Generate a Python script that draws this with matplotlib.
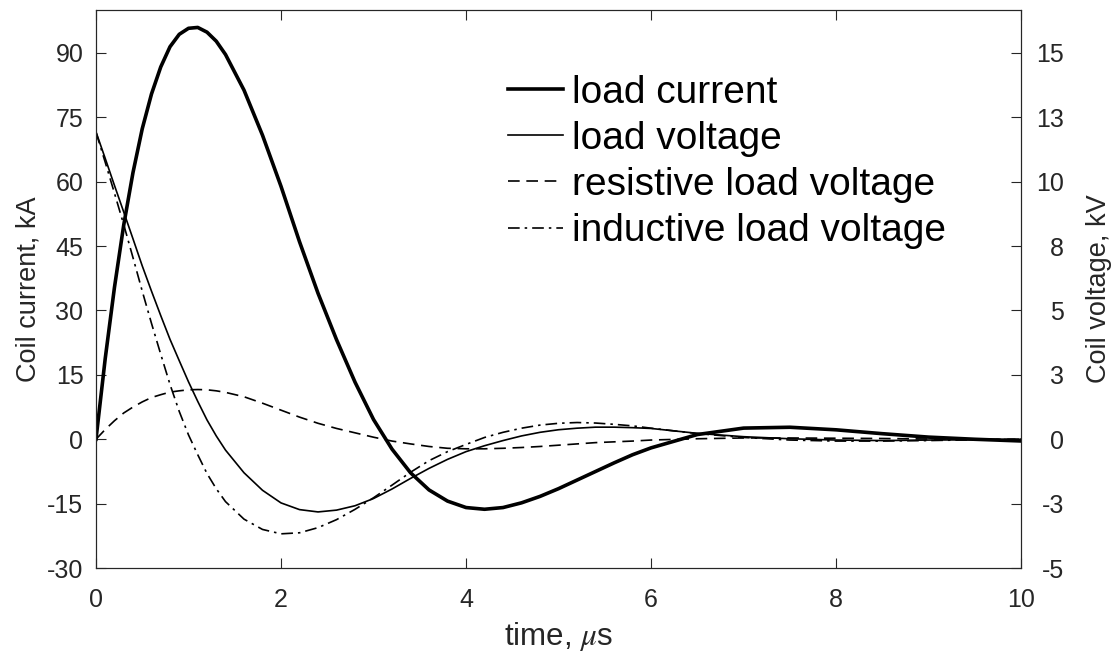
import numpy as np
import matplotlib
matplotlib.use('Agg')
import matplotlib.pyplot as plt

plt.rcParams['font.family'] = ['Liberation Sans', 'DejaVu Sans']
plt.rcParams['mathtext.fontset'] = 'stix'
plt.rcParams['axes.unicode_minus'] = False

# time, us
time_us = [0, 0.1, 0.2, 0.3, 0.4, 0.5, 0.6, 0.7, 0.8, 0.9, 1.0, 1.1, 1.2, 1.3,
           1.4, 1.6, 1.8, 2.0, 2.2, 2.4, 2.6, 2.8, 3.0, 3.2, 3.4, 3.6, 3.8,
           4.0, 4.2, 4.4, 4.6, 4.8, 5.0, 5.2, 5.4, 5.6, 5.8, 6.0,
           6.5, 7.0, 7.5, 8.0, 8.5, 9.0, 9.5, 10.0]

# coil current, kA (left axis)
load_current = [0, 18.8, 35.4, 49.9, 62.1, 72.3, 80.4, 86.7, 91.4, 94.3, 95.7, 95.9, 94.8, 92.7,
                89.6, 81.3, 70.8, 58.9, 46.0, 34.0, 23.2, 13.3, 4.6, -2.3, -7.8, -11.8, -14.4,
                -15.9, -16.3, -15.9, -14.8, -13.3, -11.5, -9.5, -7.5, -5.5, -3.6, -2.0,
                1.1, 2.6, 2.8, 2.2, 1.3, 0.5, 0.0, -0.4]

# coil voltages, kV (right axis)
load_voltage = [11.93, 10.90, 9.85, 8.82, 7.78, 6.73, 5.75, 4.80, 3.88, 3.05, 2.23, 1.47, 0.75, 0.13,
                -0.42, -1.30, -1.98, -2.47, -2.73, -2.82, -2.75, -2.58, -2.30, -1.93, -1.52, -1.13, -0.78,
                -0.48, -0.25, -0.05, 0.13, 0.27, 0.37, 0.43, 0.47, 0.47, 0.45, 0.42,
                0.23, 0.10, 0.02, -0.03, -0.05, -0.03, -0.02, 0.0]

resistive_voltage = [0, 0.38, 0.72, 1.02, 1.25, 1.45, 1.62, 1.73, 1.83, 1.88, 1.92, 1.93, 1.92, 1.88,
                     1.82, 1.65, 1.40, 1.13, 0.86, 0.62, 0.42, 0.25, 0.08, -0.07, -0.18, -0.28, -0.35,
                     -0.37, -0.37, -0.35, -0.32, -0.28, -0.23, -0.18, -0.13, -0.10, -0.07, -0.03,
                     0.02, 0.05, 0.05, 0.04, 0.03, 0.01, 0.0, 0.0]

inductive_voltage = [11.92, 10.75, 9.55, 8.33, 7.05, 5.75, 4.50, 3.30, 2.13, 1.08, 0.17, -0.60, -1.33, -1.92,
                     -2.42, -3.10, -3.50, -3.67, -3.63, -3.43, -3.12, -2.72, -2.27, -1.78, -1.28, -0.83, -0.48,
                     -0.20, 0.07, 0.27, 0.43, 0.55, 0.62, 0.65, 0.63, 0.58, 0.52, 0.43,
                     0.22, 0.07, -0.03, -0.07, -0.07, -0.05, -0.02, 0.0]

left_ticks = [-30, -15, 0, 15, 30, 45, 60, 75, 90]
right_tick_labels = ['-5', '-3', '0', '3', '5', '8', '10', '13', '15']

axis_color = '#262626'

fig = plt.figure(figsize=(11.16, 6.56), dpi=100)
ax1 = fig.add_axes([0.086, 0.134, 0.829, 0.851])
ax2 = ax1.twinx()

l1, = ax1.plot(time_us, load_current, color='black', lw=2.6, label='load current')
l2, = ax2.plot(time_us, load_voltage, color='black', lw=1.2, label='load voltage')
l3, = ax2.plot(time_us, resistive_voltage, color='black', lw=1.2, ls=(0, (7, 4)),
               label='resistive load voltage')
l4, = ax2.plot(time_us, inductive_voltage, color='black', lw=1.2, ls=(0, (7, 3, 1.5, 3)),
               label='inductive load voltage')

ax1.set_xlim(0, 10)
ax1.set_ylim(-30, 100)
ax2.set_ylim(-5, 100 / 6)
ax1.set_xticks(np.arange(0, 11, 2))
ax1.set_yticks(left_ticks)
ax2.set_yticks([v / 6 for v in left_ticks])
ax2.set_yticklabels(right_tick_labels, ha='right')

for ax in (ax1, ax2):
    for sp in ax.spines.values():
        sp.set_color(axis_color)
        sp.set_linewidth(0.8)
    ax.tick_params(direction='in', length=7, width=0.8, colors=axis_color,
                   labelsize=18, labelcolor=axis_color)
ax1.tick_params(axis='x', top=True, pad=14)
ax1.tick_params(axis='y', pad=9)
ax2.tick_params(axis='y', pad=31)

ax1.set_xlabel(r'time, $\mu$s', fontsize=22.5, color=axis_color, labelpad=6)
ax1.set_ylabel('Coil current, kA', fontsize=19.5, color=axis_color, labelpad=4)
ax2.set_ylabel('Coil voltage, kV', fontsize=19.5, color=axis_color, labelpad=16)

leg = ax2.legend(handles=[l1, l2, l3, l4], loc='upper left',
                 bbox_to_anchor=(0.455, 0.886), bbox_transform=fig.transFigure,
                 frameon=False, fontsize=28, handlelength=1.41, handletextpad=0.23,
                 labelspacing=0.26, borderaxespad=0, borderpad=0)

fig.savefig('out.png', dpi=100)
